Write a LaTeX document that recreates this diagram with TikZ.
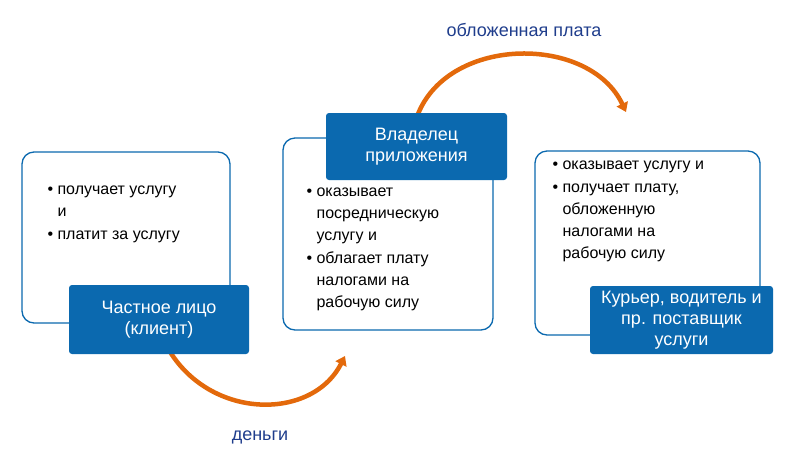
\documentclass[tikz,border=0pt]{standalone}
\usepackage{fontspec}
\setmainfont{Liberation Sans}
\usetikzlibrary{arrows.meta}
\definecolor{bl}{HTML}{0B69AF}
\definecolor{og}{HTML}{E3690B}
\definecolor{dt}{HTML}{1F3D8C}
\begin{document}
\begin{tikzpicture}[x=1pt,y=-1pt,
 frame/.style={draw=bl,line width=1.3pt,rounded corners=12pt,fill=white},
 lab/.style={fill=bl,text=white,rounded corners=3pt,align=center,font=\fontsize{18}{21}\selectfont,inner sep=0pt},
 txt/.style={anchor=north west,align=left,font=\fontsize{16}{22}\selectfont,text=black},
 arr/.style={draw=og,line width=4.5pt,-{Triangle[length=9pt,width=12pt]}},
 capt/.style={text=dt,font=\fontsize{18}{21}\selectfont}]
\useasboundingbox (0,0) rectangle (798,467);
\draw[frame] (22,152) rectangle (230,323);
\draw[frame] (283,138) rectangle (493,330);
\draw[frame] (535,151) rectangle (760,335);
\coordinate (a1) at (160,332);
\coordinate (a2) at (345,356);
\draw[arr] (a1) .. controls (195,420) and (310,425) .. (a2);
\coordinate (b1) at (418,114);
\coordinate (b2) at (626,112);
\draw[arr] (b1) .. controls (450,35) and (590,35) .. (b2);
\node[lab,minimum width=180pt,minimum height=69pt] (c) at (159,319.5) {Частное лицо\\(клиент)};
\node[lab,minimum width=181pt,minimum height=67pt] (o) at (416.5,146.5) {Владелец\\приложения};
\node[lab,minimum width=183pt,minimum height=68pt] (k) at (681.5,320) {Курьер, водитель и\\пр. поставщик\\услуги};
\node[txt] (t1) at (44,182) {\textbullet\ получает услугу\\\phantom{\textbullet\ }и\\[1pt]\textbullet\ платит за услугу};
\node[txt] (t2) at (303,184) {\textbullet\ оказывает\\\phantom{\textbullet\ }посредническую\\\phantom{\textbullet\ }услугу и\\[1pt]\textbullet\ облагает плату\\\phantom{\textbullet\ }налогами на\\\phantom{\textbullet\ }рабочую силу};
\node[txt] (t3) at (549,157) {\textbullet\ оказывает услугу и\\[1pt]\textbullet\ получает плату,\\\phantom{\textbullet\ }обложенную\\\phantom{\textbullet\ }налогами на\\\phantom{\textbullet\ }рабочую силу};
\node[capt] (m) at (260,437) {деньги};
\node[capt] (p) at (524,30) {обложенная плата};
\end{tikzpicture}
\end{document}
